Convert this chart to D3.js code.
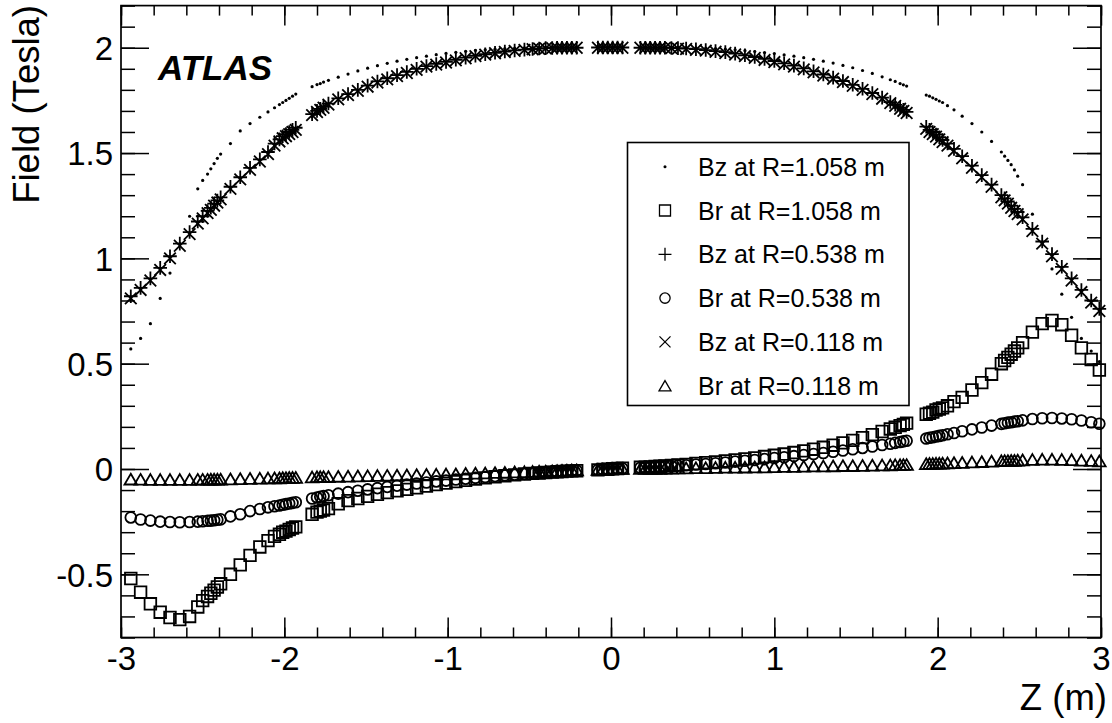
<!DOCTYPE html>
<html>
<head>
<meta charset="utf-8">
<script src="https://cdn.jsdelivr.net/npm/d3@7/dist/d3.min.js"></script>
<style>
  html, body { margin: 0; padding: 0; background: #fff; }
  svg { display: block; font-family: "Liberation Sans", Arial, Helvetica, sans-serif; }
</style>
</head>
<body>
<svg id="chart" width="1112" height="723"></svg>
<script>
// Longitudinal positions of the field-map samples (m)
const zPos = [
  -2.94, -2.88, -2.82, -2.76, -2.70, -2.64, -2.58, -2.53, -2.50, -2.47, -2.45, -2.43, -2.41, -2.39, -2.33, -2.27, -2.21, -2.15, -2.10, -2.06, -2.03, -2.01, -1.99, -1.97, -1.95, -1.93,
  -1.83, -1.80, -1.78, -1.76, -1.73, -1.67, -1.61, -1.55, -1.49, -1.43, -1.37, -1.31, -1.25, -1.19, -1.13, -1.07, -1.01, -0.95, -0.89, -0.83, -0.77, -0.71, -0.65, -0.59, -0.53, -0.48, -0.44, -0.40, -0.36, -0.33, -0.30, -0.27, -0.24, -0.21,
  -0.08, -0.05, -0.02, 0.01, 0.04, 0.07,
  0.18, 0.21, 0.24, 0.27, 0.30, 0.33, 0.37, 0.41, 0.46, 0.52, 0.58, 0.64, 0.70, 0.76, 0.82, 0.88, 0.94, 1.00, 1.06, 1.12, 1.18, 1.24, 1.30, 1.36, 1.42, 1.48, 1.54, 1.60, 1.66, 1.71, 1.74, 1.77, 1.79, 1.81,
  1.93, 1.95, 1.97, 1.99, 2.01, 2.03, 2.06, 2.10, 2.15, 2.21, 2.27, 2.33, 2.39, 2.41, 2.43, 2.45, 2.47, 2.49, 2.52, 2.58, 2.64, 2.70, 2.76, 2.82, 2.88, 2.94, 2.99
];

// Bz at R = 1.058 m (T)
const bzR1058 = [
  0.57, 0.62, 0.69, 0.81, 0.93, 1.07, 1.20, 1.33, 1.37, 1.40, 1.425, 1.45, 1.475, 1.495, 1.545, 1.605, 1.64, 1.67, 1.695, 1.715, 1.73, 1.74, 1.75, 1.76, 1.77, 1.78,
  1.815, 1.825, 1.83, 1.837, 1.845, 1.86, 1.875, 1.89, 1.903, 1.915, 1.926, 1.936, 1.945, 1.953, 1.96, 1.967, 1.973, 1.978, 1.983, 1.987, 1.99, 1.993, 1.996, 1.998, 2.0, 2.001, 2.002, 2.002, 2.003, 2.003, 2.004, 2.004, 2.004, 2.004,
  2.005, 2.005, 2.005, 2.005, 2.005, 2.005,
  2.004, 2.004, 2.004, 2.004, 2.003, 2.003, 2.002, 2.002, 2.001, 2.0, 1.998, 1.996, 1.993, 1.99, 1.986, 1.982, 1.977, 1.972, 1.966, 1.96, 1.953, 1.945, 1.936, 1.927, 1.916, 1.905, 1.892, 1.878, 1.862, 1.848, 1.84, 1.83, 1.824, 1.818,
  1.775, 1.77, 1.762, 1.755, 1.747, 1.74, 1.725, 1.705, 1.675, 1.64, 1.60, 1.555, 1.505, 1.485, 1.465, 1.445, 1.42, 1.39, 1.35, 1.21, 1.07, 0.95, 0.83, 0.72, 0.62, 0.56, 0.51
];

// Br at R = 1.058 m (T)
const brR1058 = [
  -0.52, -0.585, -0.64, -0.68, -0.705, -0.715, -0.70, -0.655, -0.625, -0.605, -0.59, -0.575, -0.56, -0.545, -0.50, -0.455, -0.41, -0.37, -0.34, -0.32, -0.31, -0.30, -0.295, -0.287, -0.28, -0.275,
  -0.215, -0.205, -0.20, -0.195, -0.188, -0.165, -0.15, -0.14, -0.13, -0.12, -0.112, -0.104, -0.097, -0.089, -0.081, -0.074, -0.067, -0.06, -0.054, -0.048, -0.042, -0.037, -0.032, -0.028, -0.024, -0.021, -0.019, -0.017, -0.015, -0.013, -0.012, -0.01, -0.009, -0.008,
  -0.004, -0.002, -0.001, 0.001, 0.002, 0.004,
  0.008, 0.009, 0.01, 0.012, 0.013, 0.015, 0.017, 0.019, 0.022, 0.026, 0.03, 0.034, 0.038, 0.043, 0.048, 0.053, 0.059, 0.065, 0.071, 0.078, 0.086, 0.094, 0.103, 0.113, 0.124, 0.136, 0.149, 0.163, 0.178, 0.19, 0.198, 0.206, 0.212, 0.218,
  0.26, 0.265, 0.27, 0.28, 0.285, 0.29, 0.30, 0.32, 0.34, 0.375, 0.41, 0.45, 0.50, 0.515, 0.53, 0.545, 0.56, 0.575, 0.60, 0.65, 0.69, 0.705, 0.685, 0.635, 0.575, 0.52, 0.47
];

// Bz at R = 0.538 m (T)
const bzR0538 = [
  0.82, 0.86, 0.905, 0.955, 1.01, 1.07, 1.125, 1.175, 1.20, 1.225, 1.24, 1.26, 1.275, 1.29, 1.34, 1.385, 1.43, 1.47, 1.505, 1.545, 1.565, 1.58, 1.59, 1.60, 1.61, 1.62,
  1.685, 1.70, 1.71, 1.72, 1.735, 1.76, 1.78, 1.80, 1.82, 1.84, 1.855, 1.87, 1.885, 1.90, 1.913, 1.923, 1.933, 1.943, 1.953, 1.962, 1.969, 1.976, 1.982, 1.987, 1.991, 1.994, 1.996, 1.998, 1.999, 2.0, 2.0, 2.0, 2.0, 2.0,
  2.001, 2.001, 2.001, 2.001, 2.001, 2.001,
  2.0, 2.0, 2.0, 2.0, 2.0, 2.0, 1.999, 1.998, 1.996, 1.993, 1.989, 1.984, 1.979, 1.972, 1.964, 1.956, 1.947, 1.937, 1.926, 1.915, 1.902, 1.888, 1.873, 1.858, 1.842, 1.824, 1.805, 1.785, 1.763, 1.742, 1.729, 1.715, 1.705, 1.695,
  1.625, 1.61, 1.60, 1.588, 1.575, 1.562, 1.545, 1.52, 1.485, 1.44, 1.395, 1.35, 1.30, 1.285, 1.27, 1.25, 1.235, 1.22, 1.195, 1.14, 1.08, 1.02, 0.96, 0.905, 0.85, 0.80, 0.76
];

// Br at R = 0.538 m (T)
const brR0538 = [
  -0.23, -0.24, -0.245, -0.25, -0.252, -0.253, -0.252, -0.25, -0.248, -0.246, -0.245, -0.243, -0.241, -0.239, -0.225, -0.215, -0.20, -0.19, -0.182, -0.177, -0.173, -0.17, -0.167, -0.164, -0.161, -0.158,
  -0.14, -0.135, -0.132, -0.129, -0.125, -0.117, -0.11, -0.103, -0.097, -0.091, -0.085, -0.079, -0.074, -0.069, -0.064, -0.059, -0.055, -0.05, -0.046, -0.042, -0.038, -0.034, -0.03, -0.027, -0.023, -0.02, -0.018, -0.016, -0.014, -0.013, -0.011, -0.01, -0.008, -0.007,
  -0.003, -0.002, -0.001, 0.0, 0.002, 0.003,
  0.006, 0.007, 0.008, 0.009, 0.01, 0.012, 0.014, 0.016, 0.018, 0.021, 0.024, 0.027, 0.031, 0.035, 0.039, 0.043, 0.047, 0.052, 0.056, 0.061, 0.066, 0.071, 0.076, 0.082, 0.088, 0.094, 0.1, 0.107, 0.114, 0.12, 0.124, 0.128, 0.131, 0.134,
  0.145, 0.148, 0.151, 0.154, 0.157, 0.16, 0.165, 0.171, 0.179, 0.188, 0.197, 0.206, 0.214, 0.217, 0.22, 0.222, 0.225, 0.227, 0.231, 0.237, 0.241, 0.242, 0.24, 0.236, 0.23, 0.222, 0.215
];

// Bz at R = 0.118 m (T)
const bzR0118 = [
  0.81, 0.85, 0.895, 0.945, 1.00, 1.06, 1.115, 1.165, 1.19, 1.215, 1.23, 1.25, 1.265, 1.28, 1.33, 1.375, 1.42, 1.46, 1.495, 1.535, 1.555, 1.57, 1.58, 1.59, 1.60, 1.61,
  1.68, 1.695, 1.705, 1.715, 1.73, 1.755, 1.775, 1.795, 1.815, 1.835, 1.85, 1.865, 1.88, 1.895, 1.91, 1.92, 1.93, 1.94, 1.95, 1.96, 1.967, 1.974, 1.98, 1.985, 1.99, 1.993, 1.995, 1.997, 1.998, 1.999, 2.0, 2.0, 2.0, 2.0,
  2.0, 2.0, 2.0, 2.0, 2.0, 2.0,
  2.0, 2.0, 2.0, 2.0, 2.0, 1.999, 1.998, 1.996, 1.994, 1.99, 1.986, 1.981, 1.975, 1.968, 1.96, 1.952, 1.942, 1.932, 1.921, 1.91, 1.897, 1.883, 1.868, 1.853, 1.837, 1.819, 1.80, 1.78, 1.758, 1.737, 1.724, 1.71, 1.70, 1.69,
  1.615, 1.60, 1.59, 1.578, 1.565, 1.552, 1.535, 1.51, 1.475, 1.43, 1.385, 1.34, 1.29, 1.275, 1.26, 1.24, 1.225, 1.21, 1.185, 1.13, 1.07, 1.01, 0.95, 0.895, 0.84, 0.79, 0.75
];

// Br at R = 0.118 m (T)
const brR0118 = [
  -0.048, -0.049, -0.05, -0.05, -0.05, -0.05, -0.05, -0.049, -0.049, -0.049, -0.048, -0.048, -0.048, -0.048, -0.047, -0.046, -0.045, -0.044, -0.043, -0.042, -0.042, -0.041, -0.041, -0.04, -0.04, -0.04,
  -0.038, -0.037, -0.037, -0.036, -0.036, -0.035, -0.034, -0.033, -0.032, -0.031, -0.03, -0.029, -0.028, -0.027, -0.026, -0.025, -0.024, -0.023, -0.021, -0.02, -0.019, -0.017, -0.016, -0.014, -0.013, -0.012, -0.011, -0.01, -0.009, -0.008, -0.007, -0.006, -0.005, -0.004,
  -0.002, -0.001, 0.0, 0.001, 0.001, 0.002,
  0.002, 0.002, 0.003, 0.003, 0.003, 0.004, 0.004, 0.005, 0.005, 0.006, 0.006, 0.007, 0.008, 0.008, 0.009, 0.01, 0.01, 0.011, 0.012, 0.012, 0.013, 0.014, 0.014, 0.015, 0.016, 0.016, 0.017, 0.018, 0.019, 0.019, 0.02, 0.02, 0.021, 0.021,
  0.025, 0.026, 0.026, 0.027, 0.027, 0.028, 0.029, 0.03, 0.031, 0.033, 0.035, 0.037, 0.039, 0.04, 0.04, 0.041, 0.041, 0.042, 0.043, 0.045, 0.046, 0.046, 0.045, 0.044, 0.042, 0.04, 0.038
];

const seriesLabels = ["Bz at R=1.058 m", "Br at R=1.058 m", "Bz at R=0.538 m", "Br at R=0.538 m", "Bz at R=0.118 m", "Br at R=0.118 m"];
const seriesMarkers = ["dot", "square", "plus", "circle", "times", "triangle"];
const seriesValues = [bzR1058, brR1058, bzR0538, brR0538, bzR0118, brR0118];

const xTickValues = [-3, -2, -1, 0, 1, 2, 3];
const yTickValues = [-0.5, 0, 0.5, 1, 1.5, 2];
const xTitle = "Z (m)";
const yTitle = "Field (Tesla)";
const experimentLabel = "ATLAS";

// ---- layout ----
const frame = { left: 121, right: 1101, top: 5.6, bottom: 637.5 };
const x = d3.scaleLinear().domain([-3, 3]).range([frame.left, frame.right]);
const y = d3.scaleLinear().domain([-0.8, 2.2]).range([frame.bottom, frame.top]);

const svg = d3.select("#chart");
const ink = "#000";

// marker outlines, centred on (0,0)
function markerPath(kind, s) {
  const p = d3.path();
  if (kind === "square") {
    const h = 5.8 * s; p.rect(-h, -h, 2 * h, 2 * h);
  } else if (kind === "circle") {
    p.arc(0, 0, 5.4 * s, 0, 2 * Math.PI);
  } else if (kind === "triangle") {
    const w = 6.3 * s, t = 5.4 * s;
    p.moveTo(0, -t); p.lineTo(w, t); p.lineTo(-w, t); p.closePath();
  } else if (kind === "plus") {
    const a = 6.8 * s; p.moveTo(-a, 0); p.lineTo(a, 0); p.moveTo(0, -a); p.lineTo(0, a);
  } else if (kind === "times") {
    const a = 5.8 * s; p.moveTo(-a, -a); p.lineTo(a, a); p.moveTo(-a, a); p.lineTo(a, -a);
  }
  return p.toString();
}

function drawMarker(g, kind, s, sw) {
  if (kind === "dot") {
    g.append("circle").attr("r", 1.6 * s).attr("fill", ink);
  } else {
    g.append("path").attr("d", markerPath(kind, s))
      .attr("fill", "none").attr("stroke", ink).attr("stroke-width", sw);
  }
}

// ---- data markers ----
const plot = svg.append("g").attr("class", "markers");
seriesValues.forEach((vals, si) => {
  const kind = seriesMarkers[si];
  const pts = zPos.map((z, i) => ({ z, v: vals[i] }));
  plot.append("g").selectAll("g").data(pts).join("g")
    .attr("transform", d => `translate(${x(d.z)},${y(d.v)})`)
    .each(function () { drawMarker(d3.select(this), kind, 1, 1.8); });
});

// ---- frame and axes (ticks on all four sides) ----
const axisG = svg.append("g").attr("class", "axes");
axisG.append("rect")
  .attr("x", frame.left).attr("y", frame.top)
  .attr("width", frame.right - frame.left).attr("height", frame.bottom - frame.top)
  .attr("fill", "none").attr("stroke", ink).attr("stroke-width", 1.7);

function styleAxis(g) {
  g.select(".domain").remove();
  g.selectAll(".tick line").attr("stroke", ink).attr("stroke-width", 1.5);
  g.selectAll(".tick text").attr("fill", ink).attr("font-size", 33);
}

const tickText = d => String(d);
const xMinor = d3.range(-3, 3.0001, 0.2).map(v => +v.toFixed(2));
const yMinor = d3.range(-0.8, 2.2001, 0.1).map(v => +v.toFixed(2));

// bottom
axisG.append("g").attr("transform", `translate(0,${frame.bottom})`)
  .call(d3.axisBottom(x).tickValues(xMinor).tickSize(-10).tickFormat(""))
  .call(styleAxis);
axisG.append("g").attr("transform", `translate(0,${frame.bottom})`)
  .call(d3.axisBottom(x).tickValues(xTickValues).tickSize(-20).tickFormat(tickText))
  .call(styleAxis)
  .call(g => g.selectAll(".tick text").attr("dy", "0.71em").attr("y", 9));
// top
axisG.append("g").attr("transform", `translate(0,${frame.top})`)
  .call(d3.axisTop(x).tickValues(xMinor).tickSize(-10).tickFormat(""))
  .call(styleAxis);
axisG.append("g").attr("transform", `translate(0,${frame.top})`)
  .call(d3.axisTop(x).tickValues(xTickValues).tickSize(-20).tickFormat(""))
  .call(styleAxis);
// left
axisG.append("g").attr("transform", `translate(${frame.left},0)`)
  .call(d3.axisLeft(y).tickValues(yMinor).tickSize(-14).tickFormat(""))
  .call(styleAxis);
axisG.append("g").attr("transform", `translate(${frame.left},0)`)
  .call(d3.axisLeft(y).tickValues(yTickValues).tickSize(-28).tickFormat(tickText))
  .call(styleAxis)
  .call(g => g.selectAll(".tick text").attr("x", -8).attr("dy", "0.36em"));
// right
axisG.append("g").attr("transform", `translate(${frame.right},0)`)
  .call(d3.axisRight(y).tickValues(yMinor).tickSize(-14).tickFormat(""))
  .call(styleAxis);
axisG.append("g").attr("transform", `translate(${frame.right},0)`)
  .call(d3.axisRight(y).tickValues(yTickValues).tickSize(-28).tickFormat(""))
  .call(styleAxis);

// ---- axis titles ----
svg.append("text")
  .attr("x", 1107).attr("y", 710)
  .attr("text-anchor", "end").attr("font-size", 36.5).attr("fill", ink)
  .text(xTitle);
svg.append("text")
  .attr("transform", "translate(39,5) rotate(-90)")
  .attr("text-anchor", "end").attr("font-size", 36.5).attr("fill", ink)
  .text(yTitle);

// ---- experiment label ----
svg.append("text")
  .attr("x", 158).attr("y", 80)
  .attr("font-size", 35).attr("font-weight", "bold").attr("font-style", "italic")
  .attr("fill", ink)
  .text(experimentLabel);

// ---- legend ----
const legend = svg.append("g").attr("class", "legend");
const lgBox = { x: 627.5, y: 142.5, w: 281.5, h: 263 };
legend.append("rect")
  .attr("x", lgBox.x).attr("y", lgBox.y).attr("width", lgBox.w).attr("height", lgBox.h)
  .attr("fill", "#fff").attr("stroke", ink).attr("stroke-width", 1.6);
const rowStep = 43.8, firstRow = 166.7;
seriesLabels.forEach((label, i) => {
  const row = legend.append("g").attr("transform", `translate(0,${firstRow + i * rowStep})`);
  const m = row.append("g").attr("transform", "translate(665,0)");
  drawMarker(m, seriesMarkers[i], 0.95, 1.3);
  row.append("text").attr("x", 698).attr("y", 0).attr("dy", "0.36em")
    .attr("font-size", 25).attr("fill", ink).text(label);
});
</script>
</body>
</html>
